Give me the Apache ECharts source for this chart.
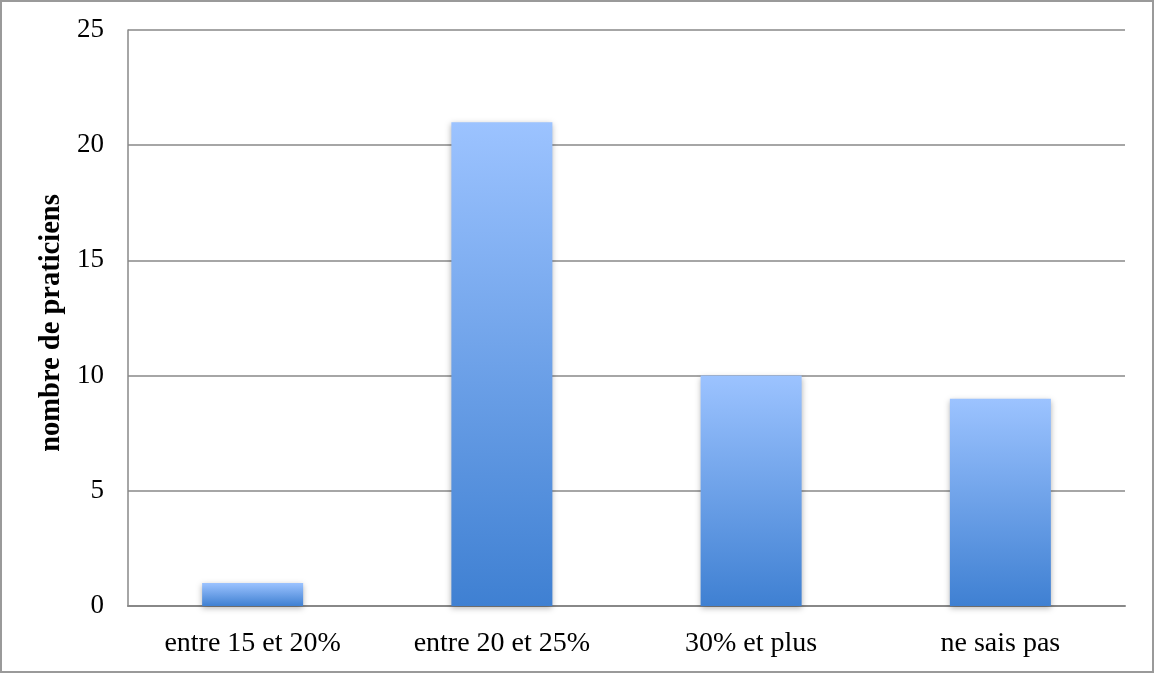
<!DOCTYPE html>
<html><head><meta charset="utf-8">
<script src="https://cdn.jsdelivr.net/npm/echarts@6/dist/echarts.min.js"></script>
<style>html,body{margin:0;padding:0;background:#fff;}#c{width:1154px;height:673px;box-sizing:border-box;border:2px solid #9a9a9a;}</style>
</head><body><div id="c"></div>
<script>
const categories = ["entre 15 et 20%", "entre 20 et 25%", "30% et plus", "ne sais pas"];
const values = [1, 21, 10, 9];
const yTicks = [0, 5, 10, 15, 20, 25];
const yAxisTitle = "nombre de praticiens";

const chart = echarts.init(document.getElementById('c'));
const font = "'Liberation Serif', 'DejaVu Serif', serif";
chart.setOption({
  animation: false,
  grid: {left: 126, right: 27, top: 28, bottom: 65},
  xAxis: {
    type: 'category', data: categories,
    axisLine: {lineStyle: {color: '#888', width: 2}},
    axisTick: {show: false},
    axisLabel: {color: '#000', fontFamily: font, fontSize: 28, margin: 24}
  },
  yAxis: {
    type: 'value', min: yTicks[0], max: yTicks[yTicks.length-1], interval: 5,
    name: yAxisTitle, nameLocation: 'middle', nameGap: 62,
    nameTextStyle: {color: '#000', fontFamily: font, fontSize: 28.5, fontWeight: 'bold', padding: [0, 10, 0, 0]},
    axisLine: {show: true, lineStyle: {color: '#888', width: 1.5}},
    axisTick: {show: false},
    splitLine: {lineStyle: {color: '#888', width: 1.5}},
    axisLabel: {color: '#000', fontFamily: font, fontSize: 27, margin: 24}
  },
  series: [{
    type: 'bar', data: values, barWidth: 101,
    itemStyle: {
      color: new echarts.graphic.LinearGradient(0, 0, 0, 1, [
        {offset: 0, color: '#9cc3ff'}, {offset: 1, color: '#3f80d2'}
      ], false),
      shadowBlur: 6, shadowColor: 'rgba(0,0,0,0.3)', shadowOffsetY: 2
    }
  }]
});
</script></body></html>
